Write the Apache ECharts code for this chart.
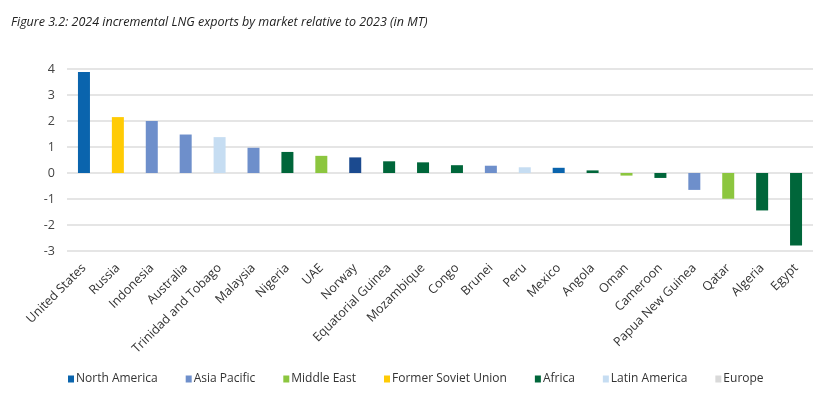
<!DOCTYPE html>
<html><head><meta charset="utf-8">
<script src="https://cdn.jsdelivr.net/npm/echarts@6/dist/echarts.min.js"></script>
<style>html,body{margin:0;padding:0;background:#fff}#c{width:840px;height:393px}</style>
</head><body><div id="c"></div>
<script>
const categories = ["United States","Russia","Indonesia","Australia","Trinidad and Tobago","Malaysia","Nigeria","UAE","Norway","Equatorial Guinea","Mozambique","Congo","Brunei","Peru","Mexico","Angola","Oman","Cameroon","Papua New Guinea","Qatar","Algeria","Egypt"];
const values = [3.88,2.15,2.0,1.48,1.38,0.97,0.81,0.66,0.6,0.45,0.41,0.3,0.28,0.22,0.2,0.1,-0.1,-0.19,-0.65,-0.99,-1.44,-2.79];
const regionOf = ["North America","Former Soviet Union","Asia Pacific","Asia Pacific","Latin America","Asia Pacific","Africa","Middle East","Europe","Africa","Africa","Africa","Asia Pacific","Latin America","North America","Africa","Middle East","Africa","Asia Pacific","Middle East","Africa","Africa"];
const regions = ["North America","Asia Pacific","Middle East","Former Soviet Union","Africa","Latin America","Europe"];
const regionColors = ["#0a64ad","#6e8fcb","#8cc63f","#ffcb05","#00663a","#c6ddf2","#d9d9d9"];
const barColorOverride = {"Norway":"#1b4a8f"};

const chart = echarts.init(document.getElementById('c'));
const series = regions.map((r, ri) => ({
  name: r,
  type: 'bar',
  stack: 'all',
  barWidth: 12,
  itemStyle: { color: regionColors[ri] },
  data: categories.map((c, i) => {
    if (regionOf[i] !== r) return null;
    if (barColorOverride[c]) return { value: values[i], itemStyle: { color: barColorOverride[c] } };
    return values[i];
  })
}));
chart.setOption({
  animation: false,
  title: {
    text: 'Figure 3.2: 2024 incremental LNG exports by market relative to 2023 (in MT)',
    left: 6, top: 11,
    textStyle: { fontFamily: 'Open Sans', fontStyle: 'italic', fontWeight: 'normal', fontSize: 12.5, color: '#222' }
  },
  legend: {
    data: regions,
    top: 368, left: 63, width: 780,
    itemWidth: 6, itemHeight: 7, itemGap: 28,
    icon: 'rect',
    textStyle: { fontFamily: 'Open Sans', fontSize: 12, color: '#333', padding: [0,0,0,-3] }
  },
  grid: { left: 67, right: 27, top: 69, bottom: 142 },
  xAxis: {
    type: 'category',
    data: categories,
    axisLine: { show: false },
    axisTick: { show: false },
    axisLabel: { rotate: 45, interval: 0, margin: 15, fontFamily: 'Open Sans', fontSize: 12.5, color: '#333' }
  },
  yAxis: {
    type: 'value', min: -3, max: 4, interval: 1,
    axisLabel: { fontFamily: 'Open Sans', fontSize: 12.5, color: '#444', margin: 12 },
    splitLine: { lineStyle: { color: '#dcdcdc', width: 1.5 } },
    axisLine: { show: false }, axisTick: { show: false }
  },
  series: series
});
</script></body></html>
